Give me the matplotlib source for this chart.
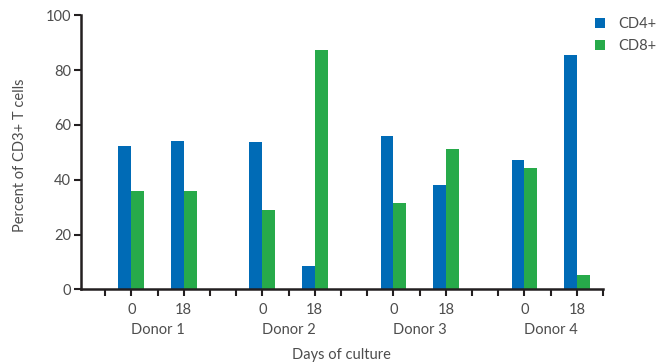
import numpy as np
import matplotlib.pyplot as plt
from matplotlib.transforms import blended_transform_factory

donors = ['Donor 1', 'Donor 2', 'Donor 3', 'Donor 4']
days = ['0', '18']
cd4 = [52.2, 54.0, 53.8, 8.4, 55.9, 38.1, 47.2, 85.5]
cd8 = [35.8, 35.8, 28.9, 87.3, 31.5, 51.2, 44.3, 5.2]

blue = '#006bb6'
green = '#27aa4a'
dark = '#231f20'
grey = '#4d4d4d'

plt.rcParams['font.family'] = ['Lato', 'DejaVu Sans']

fig = plt.figure(figsize=(6.66, 3.63), dpi=100)
ax = fig.add_axes([81/666, 1-289.3/363, (603-81)/666, (289.3-15.3)/363])

pos = np.array([1 + 5*g + 2*d for g in range(len(donors)) for d in range(len(days))])
w = 0.49
ax.bar(pos - w/2, cd4, width=w, color=blue, label='CD4+')
ax.bar(pos + w/2, cd8, width=w, color=green, label='CD8+')

ax.set_xlim(-0.92, 19)
ax.set_ylim(0, 100)
ax.set_yticks([0, 20, 40, 60, 80, 100])
ax.set_xticks(np.arange(0, 20))
ax.set_xticklabels([])
for s in ['top', 'right']:
    ax.spines[s].set_visible(False)
for s in ['left', 'bottom']:
    ax.spines[s].set_color(dark)
    ax.spines[s].set_linewidth(1.8)
ax.spines['bottom'].set_zorder(5)
ax.tick_params(axis='y', direction='out', length=5, width=1.5, color=dark,
               labelcolor=grey, labelsize=10.5, pad=2)
ax.tick_params(axis='x', direction='out', length=5, width=1.5, color=dark)

tr = blended_transform_factory(ax.transData, fig.transFigure)
for i, p in enumerate(pos):
    ax.text(p, 1-310/363, days[i % 2], transform=tr, ha='center', va='center',
            fontsize=10.5, color=grey)
for g, name in enumerate(donors):
    ax.text(2 + 5*g, 1-330/363, name, transform=tr, ha='center', va='center',
            fontsize=10.5, color=grey)
ax.text(9, 1-355/363, 'Days of culture', transform=tr, ha='center', va='center',
        fontsize=10.5, color=grey)

fig.text(20/666, 1-155/363, 'Percent of CD3+ T cells', rotation=90,
         ha='center', va='center', fontsize=10.5, color=grey)

ax.legend(loc='upper left', bbox_to_anchor=(582/666, 1-4/363),
          bbox_transform=fig.transFigure, frameon=False, fontsize=10.5,
          handlelength=0.7, handleheight=0.7, handletextpad=0.9,
          labelspacing=0.55, labelcolor=grey)

fig.savefig('out.png', dpi=100)
